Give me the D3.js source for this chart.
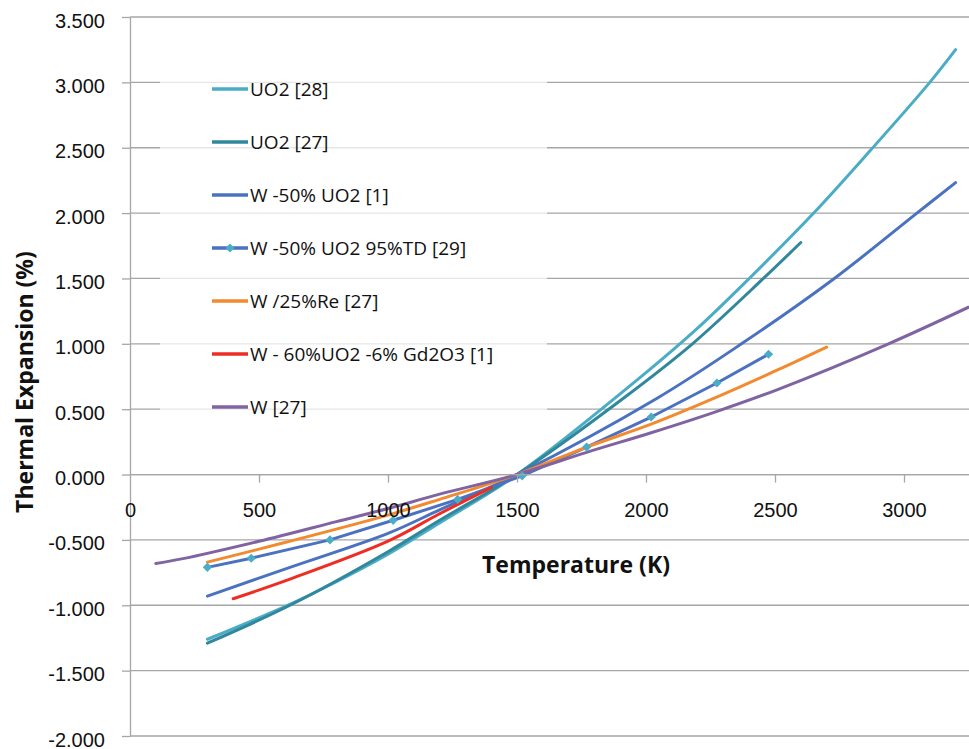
<!DOCTYPE html>
<html>
<head>
<meta charset="utf-8">
<script src="https://cdn.jsdelivr.net/npm/d3@7/dist/d3.min.js"></script>
<style>
  body { margin: 0; background: #fff; }
  svg { display: block; font-family: "Open Sans", sans-serif; }
  .axis path, .axis line { stroke: #a6a6a6; stroke-width: 1.3; }
  .axis text { fill: #111; font-size: 20px; }
  .grid line { stroke: #a6a6a6; stroke-width: 1.3; }
  .title { font-weight: bold; font-size: 23px; fill: #111; }
  .legend text { font-size: 19px; fill: #111; }
</style>
</head>
<body>
<div id="chart"></div>
<script>
// series: [temperature K, thermal expansion %]
const uo2_28 = [[300,-1.26],[600,-1.01],[800,-0.82],[1000,-0.61],[1200,-0.37],[1500,0],[2000,0.78],[2200,1.12],[2400,1.5],[2650,2.0],[2870,2.48],[3100,3.0],[3200,3.25]];
const uo2_27 = [[300,-1.29],[620,-1.0],[1000,-0.59],[1200,-0.35],[1500,0],[1910,0.58],[2180,1.0],[2455,1.5],[2600,1.775]];
const w50uo2_1 = [[300,-0.93],[620,-0.71],[1000,-0.45],[1200,-0.27],[1500,0],[2040,0.58],[2370,1.0],[2730,1.5],[3050,2.0],[3200,2.233]];
const w50uo2_td29 = [[300,-0.71],[470,-0.64],[775,-0.50],[1020,-0.35],[1270,-0.19],[1520,-0.01],[1770,0.21],[2020,0.44],[2275,0.70],[2475,0.92]];
const w25re_27 = [[300,-0.67],[600,-0.52],[1000,-0.31],[1200,-0.19],[1500,0],[1770,0.21],[2020,0.385],[2260,0.58],[2510,0.80],[2700,0.975]];
const w60uo2gd_1 = [[400,-0.95],[620,-0.80],[1000,-0.51],[1200,-0.30],[1400,-0.10]];
const w_27 = [[100,-0.68],[200,-0.645],[500,-0.51],[800,-0.36],[1000,-0.26],[1200,-0.15],[1500,0],[1770,0.17],[2020,0.32],[2270,0.48],[2510,0.65],[2940,1.0],[3250,1.28]];

const seriesNames = ["UO2 [28]", "UO2 [27]", "W -50% UO2 [1]", "W -50% UO2 95%TD [29]", "W /25%Re [27]", "W - 60%UO2 -6% Gd2O3 [1]", "W [27]"];
const seriesData = [uo2_28, uo2_27, w50uo2_1, w50uo2_td29, w25re_27, w60uo2gd_1, w_27];
const seriesColors = ["#4bacc6", "#31889c", "#4a72c0", "#4a72c0", "#f28a30", "#ee2d24", "#8064a2"];
const seriesMarkers = [false, false, false, true, false, false, false];

const xTicks = [0, 500, 1000, 1500, 2000, 2500, 3000];
const yTicks = [-2, -1.5, -1, -0.5, 0, 0.5, 1, 1.5, 2, 2.5, 3, 3.5];

const W = 969, H = 749;
const plotLeft = 130, plotTop = 17, plotBottom = 736;

let svg = d3.select("#chart").append("svg")
    .attr("width", W)
    .attr("height", H);

let x = d3.scaleLinear().domain([0, 3000]).range([plotLeft, 904]);
let y = d3.scaleLinear().domain([-2, 3.5]).range([plotBottom, plotTop]);

let fmt3 = d3.format(".3f");

// horizontal gridlines
svg.append("g").attr("class", "grid")
    .selectAll("line")
    .data(yTicks)
    .enter().append("line")
    .attr("x1", plotLeft).attr("x2", W)
    .attr("y1", function(d) { return y(d); })
    .attr("y2", function(d) { return y(d); });

// y axis
let yAxis = svg.append("g").attr("class", "axis y")
    .attr("transform", "translate(" + plotLeft + ",0)")
    .call(d3.axisLeft(y).tickValues(yTicks)
        .tickFormat(function(d) { return fmt3(d).replace("\u2212", "-"); })
        .tickSize(8).tickPadding(17).tickSizeOuter(0));
yAxis.selectAll("text").attr("dy", "0.5em");

// legend background (drawn under lines)
let legend = svg.append("g").attr("class", "legend");
legend.append("rect")
    .attr("x", 160).attr("y", 58)
    .attr("width", 387).attr("height", 372)
    .attr("fill", "#fff").attr("fill-opacity", 0.72);

// lines
svg.append("defs").append("clipPath").attr("id", "clip")
    .append("rect")
    .attr("x", plotLeft).attr("y", plotTop)
    .attr("width", W - plotLeft).attr("height", plotBottom - plotTop);

let smooth = d3.line()
    .curve(d3.curveCatmullRom.alpha(0.5))
    .x(function(d) { return x(d[0]); })
    .y(function(d) { return y(d[1]); });
let straight = d3.line()
    .x(function(d) { return x(d[0]); })
    .y(function(d) { return y(d[1]); });

let lines = svg.append("g").attr("clip-path", "url(#clip)");
lines.selectAll("path")
    .data(seriesData)
    .enter().append("path")
    .attr("fill", "none")
    .attr("stroke", function(d, i) { return seriesColors[i]; })
    .attr("stroke-width", 3)
    .attr("stroke-linecap", "round")
    .attr("stroke-linejoin", "round")
    .attr("d", function(d, i) { return seriesMarkers[i] ? straight(d) : smooth(d); });

let diamond = d3.symbol().type(d3.symbolSquare).size(42);
lines.append("g").selectAll("path")
    .data(w50uo2_td29)
    .enter().append("path")
    .attr("transform", function(d) { return "translate(" + x(d[0]) + "," + y(d[1]) + ") rotate(45)"; })
    .attr("d", diamond)
    .attr("fill", "#4bacc6");

// x axis at zero
let xAxis = svg.append("g").attr("class", "axis x")
    .attr("transform", "translate(0," + y(0) + ")")
    .call(d3.axisBottom(x).tickValues(xTicks).tickFormat(d3.format("d")).tickSize(8).tickPadding(20).tickSizeOuter(0));
xAxis.select(".domain").attr("d", "M" + plotLeft + ",0H" + W);
xAxis.selectAll(".tick line").filter(function(d) { return d === 0; }).remove();

// legend entries
let items = legend.selectAll("g.item")
    .data(seriesNames)
    .enter().append("g")
    .attr("class", "item")
    .attr("transform", function(d, i) { return "translate(212," + (89 + i * 53) + ")"; });
items.append("line")
    .attr("x1", 0).attr("x2", 36)
    .attr("stroke", function(d, i) { return seriesColors[i]; })
    .attr("stroke-width", 3.5);
items.filter(function(d, i) { return seriesMarkers[i]; })
    .append("path")
    .attr("transform", "translate(18,0) rotate(45)")
    .attr("d", diamond)
    .attr("fill", "#4bacc6");
items.append("text")
    .attr("x", 38)
    .attr("dy", "0.36em")
    .text(function(d) { return d; });

// axis titles
svg.append("text").attr("class", "title")
    .attr("x", 576).attr("y", 573)
    .attr("text-anchor", "middle")
    .text("Temperature (K)");
svg.append("text").attr("class", "title")
    .attr("transform", "translate(33,382) rotate(-90)")
    .attr("text-anchor", "middle")
    .text("Thermal Expansion (%)");
</script>
</body>
</html>
